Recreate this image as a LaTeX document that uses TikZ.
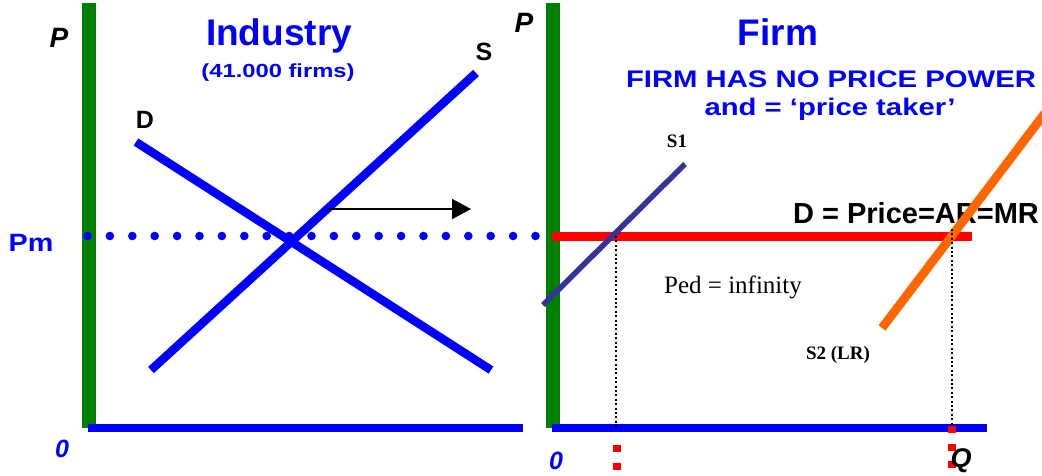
\documentclass[tikz,border=0pt]{standalone}
\usepackage{fontspec}
\setmainfont{Liberation Sans}
\newfontfamily\timesfont{Liberation Serif}
\usepackage{graphicx}
\usetikzlibrary{arrows.meta}
\definecolor{axisgreen}{HTML}{008000}
\definecolor{mktblue}{HTML}{0000FF}
\definecolor{pricered}{HTML}{FF0000}
\definecolor{lrorange}{HTML}{FF6600}
\definecolor{srslate}{HTML}{333399}

\begin{document}
\begin{tikzpicture}[x=1pt, y=-1pt,
  every node/.style={inner sep=0pt, anchor=base},
  pbar/.style={draw=axisgreen, line width=14pt},
  qbar/.style={draw=mktblue, line width=8.7pt},
  curve/.style={draw=mktblue, line width=8.5pt},
  pmdots/.style={draw=mktblue, line width=8.6pt, line cap=round, dash pattern=on 0pt off 22.4pt},
  guide/.style={draw=black, line width=2pt, dash pattern=on 2pt off 2.4pt},
  qmark/.style={draw=pricered, line width=8pt, dash pattern=on 7pt off 10.5pt},
  heading/.style={text=mktblue, font=\bfseries\fontsize{37}{40}\selectfont},
  subhead/.style={text=mktblue, font=\bfseries\fontsize{24}{26}\selectfont},
  axlabel/.style={font=\bfseries\itshape\fontsize{28}{30}\selectfont},
  zerolabel/.style={text=mktblue, font=\bfseries\itshape\fontsize{25}{27}\selectfont},
  curvelabel/.style={font=\bfseries\fontsize{25}{27}\selectfont},
  firmlabel/.style={font=\timesfont\bfseries\fontsize{19}{21}\selectfont}]
\useasboundingbox (0,0) rectangle (1042,475);

% axes
\coordinate (Ptop) at (88.5,3);
\coordinate (Pbot) at (88.5,428);
\coordinate (Qleft) at (88,428);
\coordinate (Qright) at (523,428);
\coordinate (ptop) at (552.5,3);
\coordinate (pbot) at (552.5,428);
\coordinate (qleft) at (552,428);
\coordinate (qright) at (987,428);
\draw[pbar] (Ptop) -- (Pbot);
\draw[pbar] (ptop) -- (pbot);
\coordinate (pmL) at (87.5,236);
\coordinate (pmR) at (535.5,236);
\draw[pmdots] (pmL) -- (pmR);
\draw[qbar] (Qleft) -- (Qright);
\draw[qbar] (qleft) -- (qright);

% industry
\coordinate (Dtop) at (136,142);
\coordinate (Dbot) at (491,370);
\coordinate (Sbot) at (151,370);
\coordinate (Stop) at (476,73);
\draw[curve] (Dtop) -- (Dbot);
\draw[curve] (Sbot) -- (Stop);
\coordinate (shiftL) at (328,209);
\coordinate (shiftR) at (471,209);
\draw[line width=2pt, -{Triangle[length=19pt,width=20pt]}] (shiftL) -- (shiftR);

% firm
\coordinate (arL) at (552,236.5);
\coordinate (arR) at (972,236.5);
\draw[draw=pricered, line width=8.5pt] (arL) -- (arR);
\coordinate (s1bot) at (543,305);
\coordinate (s1top) at (685,164);
\draw[draw=srslate, line width=5.5pt] (s1bot) -- (s1top);
\node[curvelabel, font=\bfseries\fontsize{29}{31}\selectfont] (dline) at (916,223) {D = Price=AR=MR};
\coordinate (s2bot) at (882,328);
\coordinate (s2top) at (1045,113);
\draw[draw=lrorange, line width=8.8pt] (s2bot) -- (s2top);
\coordinate (q1top) at (616,236);
\coordinate (q1bot) at (616,428);
\coordinate (q2top) at (952,229);
\coordinate (q2bot) at (952,428);
\draw[guide] (q1top) -- (q1bot);
\draw[guide] (q2top) -- (q2bot);
\coordinate (q1a) at (617,445);
\coordinate (q1b) at (617,470);
\coordinate (q2a) at (952,426);
\coordinate (q2b) at (952,470);
\draw[qmark] (q1a) -- (q1b);
\draw[qmark] (q2a) -- (q2b);

% labels
\node[heading] (industry) at (279,45) {Industry};
\node[subhead] (nfirms) at (278,77.5) {\scalebox{1.25}[1]{\fontsize{19}{21}\selectfont(41.000 firms)}};
\node[heading] (firm) at (778,45) {Firm};
\node[subhead] (nopower) at (831,87) {\scalebox{1.22}[1]{FIRM HAS NO PRICE POWER}};
\node[subhead] (taker) at (830,115) {\scalebox{1.22}[1]{and = ‘price taker’}};
\node[axlabel] (Plab) at (59,47) {P};
\node[axlabel] (plab) at (524,32) {P};
\node[text=mktblue, font=\bfseries\fontsize{25}{27}\selectfont] (pm) at (31,251.5) {\scalebox{1.15}[1]{Pm}};
\node[zerolabel] (zeroL) at (62,457) {0};
\node[zerolabel] (zeroR) at (556,469) {0};
\node[axlabel, font=\bfseries\itshape\fontsize{27}{29}\selectfont] (qlab) at (961,467) {Q};
\node[curvelabel] (dlab) at (145,128) {D};
\node[curvelabel] (slab) at (484,60) {S};
\node[firmlabel] (s1lab) at (677,147) {S1};
\node[firmlabel] (s2lab) at (838,359) {S2 (LR)};
\node[font=\timesfont\fontsize{25}{27}\selectfont] (ped) at (733,293) {Ped = infinity};
\end{tikzpicture}
\end{document}
